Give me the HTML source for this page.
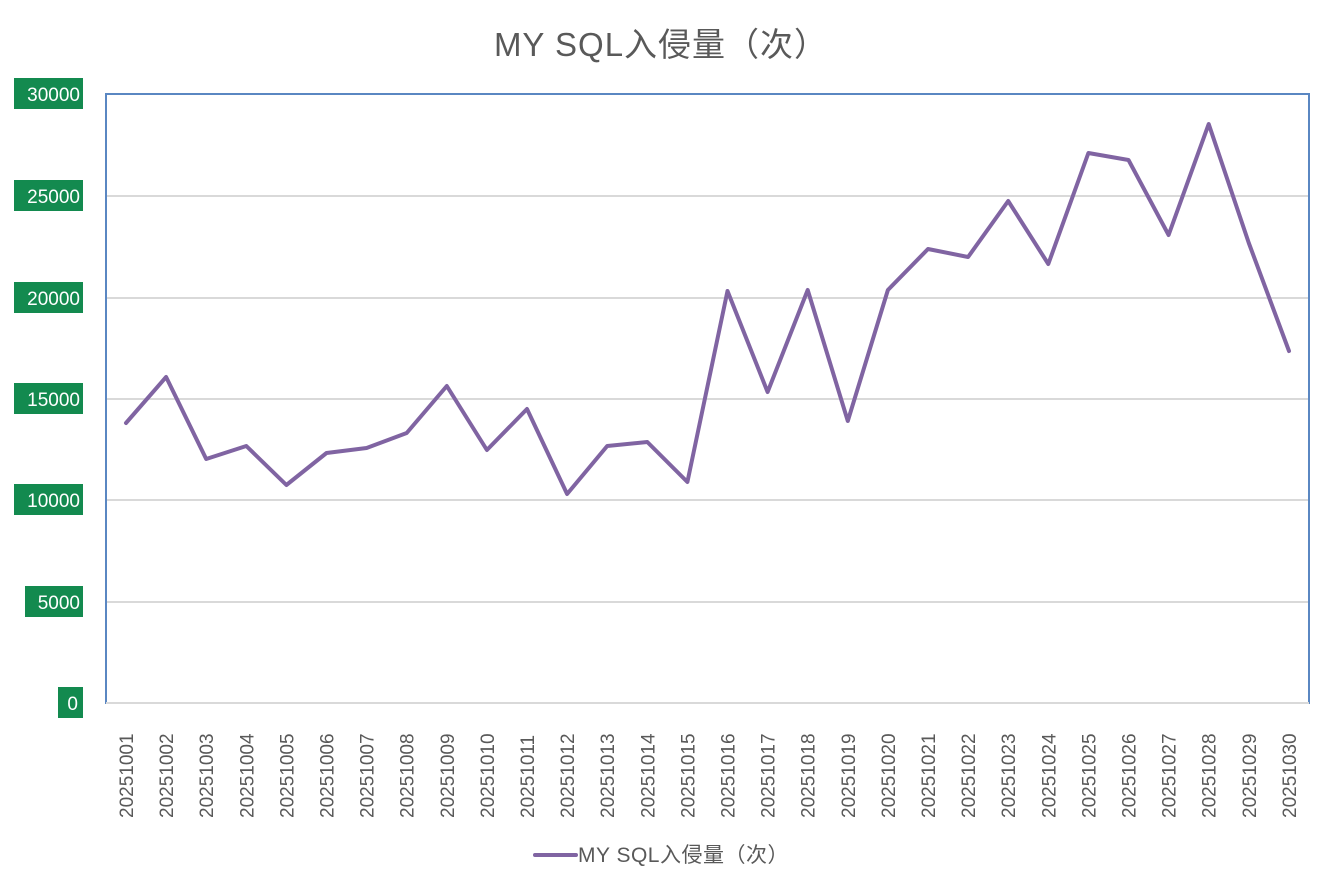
<!DOCTYPE html>
<html><head><meta charset="utf-8"><style>
html,body{margin:0;padding:0;background:#fff;width:1334px;height:889px;overflow:hidden}
svg{display:block}
text{font-family:"Liberation Sans","Noto Sans CJK SC",sans-serif}
</style></head><body>
<svg width="1334" height="889" viewBox="0 0 1334 889" xmlns="http://www.w3.org/2000/svg">
<text x="661" y="56" font-size="33" fill="#595959" text-anchor="middle" letter-spacing="1">MY SQL入侵量（次）</text>
<g stroke="#d9d9d9" stroke-width="2">
<line x1="106" y1="196" x2="1309" y2="196"/>
<line x1="106" y1="298" x2="1309" y2="298"/>
<line x1="106" y1="399" x2="1309" y2="399"/>
<line x1="106" y1="500" x2="1309" y2="500"/>
<line x1="106" y1="602" x2="1309" y2="602"/>
<line x1="106" y1="703" x2="1309" y2="703"/>
</g>
<rect x="106" y="94" width="1203" height="609" fill="none" stroke="#5a87c2" stroke-width="2"/>
<line x1="106" y1="703" x2="1309" y2="703" stroke="#d9d9d9" stroke-width="2"/>
<g font-size="19" fill="#fff">
<rect x="14" y="78" width="69" height="31" fill="#138a4f"/><text x="80" y="101" text-anchor="end">30000</text>
<rect x="14" y="180" width="69" height="31" fill="#138a4f"/><text x="80" y="203" text-anchor="end">25000</text>
<rect x="14" y="282" width="69" height="31" fill="#138a4f"/><text x="80" y="305" text-anchor="end">20000</text>
<rect x="14" y="383" width="69" height="31" fill="#138a4f"/><text x="80" y="406" text-anchor="end">15000</text>
<rect x="14" y="484" width="69" height="31" fill="#138a4f"/><text x="80" y="507" text-anchor="end">10000</text>
<rect x="25" y="586" width="58" height="31" fill="#138a4f"/><text x="80" y="609" text-anchor="end">5000</text>
<rect x="58" y="687" width="25" height="31" fill="#138a4f"/><text x="78" y="710" text-anchor="end">0</text>
</g>
<polyline fill="none" stroke="#8064a2" stroke-width="4" stroke-linejoin="round" stroke-linecap="round" points="126,423 166.1,377 206.2,459 246.3,446 286.4,485 326.5,453 366.6,448 406.7,433 446.8,386 486.9,450 527,409 567.1,494 607.2,446 647.3,442 687.4,482 727.5,291 767.6,392 807.7,290 847.8,421 887.9,290 928,249 968.1,257 1008.2,201 1048.3,264 1088.4,153 1128.5,160 1168.6,235 1208.7,124 1248.8,243 1289,351"/>
<g font-size="19" fill="#595959">
<text transform="translate(133,818) rotate(-90)">20251001</text>
<text transform="translate(173.1,818) rotate(-90)">20251002</text>
<text transform="translate(213.2,818) rotate(-90)">20251003</text>
<text transform="translate(253.3,818) rotate(-90)">20251004</text>
<text transform="translate(293.4,818) rotate(-90)">20251005</text>
<text transform="translate(333.5,818) rotate(-90)">20251006</text>
<text transform="translate(373.6,818) rotate(-90)">20251007</text>
<text transform="translate(413.7,818) rotate(-90)">20251008</text>
<text transform="translate(453.8,818) rotate(-90)">20251009</text>
<text transform="translate(493.9,818) rotate(-90)">20251010</text>
<text transform="translate(534,818) rotate(-90)">20251011</text>
<text transform="translate(574.1,818) rotate(-90)">20251012</text>
<text transform="translate(614.2,818) rotate(-90)">20251013</text>
<text transform="translate(654.3,818) rotate(-90)">20251014</text>
<text transform="translate(694.4,818) rotate(-90)">20251015</text>
<text transform="translate(734.5,818) rotate(-90)">20251016</text>
<text transform="translate(774.6,818) rotate(-90)">20251017</text>
<text transform="translate(814.7,818) rotate(-90)">20251018</text>
<text transform="translate(854.8,818) rotate(-90)">20251019</text>
<text transform="translate(894.9,818) rotate(-90)">20251020</text>
<text transform="translate(935,818) rotate(-90)">20251021</text>
<text transform="translate(975.1,818) rotate(-90)">20251022</text>
<text transform="translate(1015.2,818) rotate(-90)">20251023</text>
<text transform="translate(1055.3,818) rotate(-90)">20251024</text>
<text transform="translate(1095.4,818) rotate(-90)">20251025</text>
<text transform="translate(1135.5,818) rotate(-90)">20251026</text>
<text transform="translate(1175.6,818) rotate(-90)">20251027</text>
<text transform="translate(1215.7,818) rotate(-90)">20251028</text>
<text transform="translate(1255.8,818) rotate(-90)">20251029</text>
<text transform="translate(1296,818) rotate(-90)">20251030</text>
</g>
<line x1="535" y1="855" x2="576" y2="855" stroke="#8064a2" stroke-width="4" stroke-linecap="round"/>
<text x="578" y="862" font-size="21" fill="#595959" letter-spacing="0.5">MY SQL入侵量（次）</text>
</svg>
</body></html>
